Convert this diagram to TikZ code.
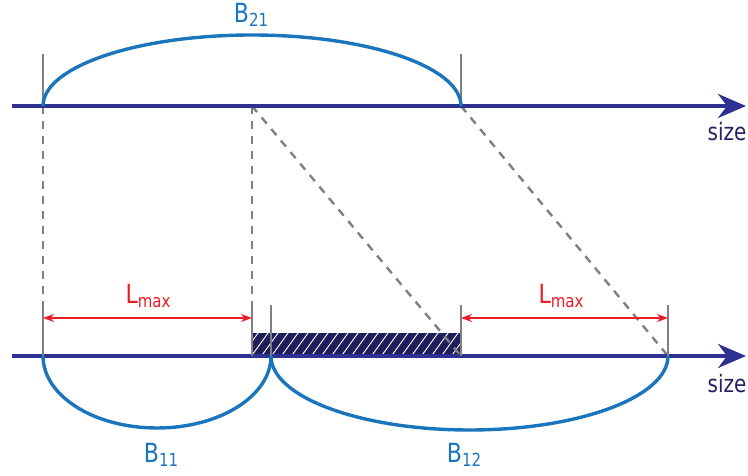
\documentclass[tikz,border=0pt]{standalone}
\usepackage{fontspec}
\usepackage{graphicx}
\setmainfont{DejaVu Sans}
\usetikzlibrary{arrows.meta}
\definecolor{axisblue}{HTML}{2E3192}
\definecolor{arcblue}{HTML}{1B75BC}
\definecolor{lred}{HTML}{ED1C24}
\definecolor{tickgray}{HTML}{808080}
\definecolor{hatchnavy}{HTML}{1E1E5A}
\definecolor{txtnavy}{HTML}{262262}
\newcommand{\tallt}[1]{\scalebox{1}[1.2]{#1}}
\newcommand{\subl}[2]{#1\raisebox{-3pt}{\fontsize{15}{15}\selectfont #2}}
\begin{document}
\begin{tikzpicture}[x=1pt,y=-1pt,
  axisline/.style={line width=3.8pt, draw=axisblue, -{Stealth[length=28pt,width=24pt,inset=9pt]}},
  arcline/.style={line width=3.4pt, draw=arcblue},
  tickline/.style={line width=2.4pt, draw=tickgray},
  dashline/.style={line width=2.4pt, draw=tickgray, dash pattern=on 8pt off 7pt},
  dimline/.style={line width=1.5pt, draw=lred, {Stealth[length=11pt,width=8pt]}-{Stealth[length=11pt,width=8pt]}},
  axislabel/.style={text=txtnavy, font=\fontsize{20}{20}\selectfont, inner sep=0pt},
  blabel/.style={text=arcblue, font=\fontsize{22}{22}\selectfont, inner sep=0pt},
  llabel/.style={text=lred, font=\fontsize{22}{22}\selectfont, inner sep=0pt}
]
\useasboundingbox (0,0) rectangle (748,476);

% axes coordinates
\coordinate (ta0) at (12,106);
\coordinate (ta1) at (746,106);
\coordinate (ba0) at (12,356);
\coordinate (ba1) at (746,356);
% top points
\coordinate (t1) at (43,106);
\coordinate (t2) at (252,106);
\coordinate (t3) at (461,106);
% bottom points
\coordinate (b1) at (43,356);
\coordinate (b2) at (252,356);
\coordinate (b3) at (271,356);
\coordinate (b4) at (461,356);
\coordinate (b5) at (668,356);
% tick tops
\coordinate (t1u) at (43,54);
\coordinate (t3u) at (461,54);
\coordinate (b1u) at (43,302);
\coordinate (b2u) at (252,302);
\coordinate (b3u) at (271,305);
\coordinate (b4u) at (461,305);
\coordinate (b5u) at (668,305);
% dimension ends
\coordinate (d1a) at (43,318);
\coordinate (d1b) at (252,318);
\coordinate (d2a) at (461,318);
\coordinate (d2b) at (668,318);

% hatched box
\fill[hatchnavy] (252,333) rectangle (461,356);
\begin{scope}
  \clip (252,333) rectangle (461,356);
  \foreach \x in {230,240,...,470} \draw[white, line width=0.9pt] (\x,358) -- ++(19.5,-27);
\end{scope}

% dashed guides
\draw[dashline] (t1) -- (b1);
\draw[dashline] (t2) -- (b2);
\draw[dashline] (t2) -- (b4);
\draw[dashline] (t3) -- (b5);

% axes
\draw[axisline] (ta0) -- (ta1);
\draw[axisline] (ba0) -- (ba1);

% ticks
\draw[tickline] (t1) -- (t1u);
\draw[tickline] (t3) -- (t3u);
\draw[tickline] (b1) -- (b1u);
\draw[tickline] (b2) -- (b2u);
\draw[tickline] (b3) -- (b3u);
\draw[tickline] (b4) -- (b4u);
\draw[tickline] (b5) -- (b5u);

% arcs
\draw[arcline] (t1) arc[start angle=180, end angle=360, x radius=209, y radius=71];
\draw[arcline] (b1) arc[start angle=180, end angle=0, x radius=114, y radius=72];
\draw[arcline] (b3) arc[start angle=180, end angle=0, x radius=198.5, y radius=74];

% dimensions
\draw[dimline] (d1a) -- (d1b);
\draw[dimline] (d2a) -- (d2b);

% labels
\node[blabel] (lb21) at (251,15) {\tallt{\subl{B}{21}}};
\node[blabel] (lb11) at (161,455) {\tallt{\subl{B}{11}}};
\node[blabel] (lb12) at (464,455) {\tallt{\subl{B}{12}}};
\node[llabel] (lm1) at (148,296) {\tallt{\subl{L}{max}}};
\node[llabel] (lm2) at (561,296) {\tallt{\subl{L}{max}}};
\node[axislabel] (s1) at (727,132) {\tallt{size}};
\node[axislabel] (s2) at (727,384) {\tallt{size}};
\end{tikzpicture}
\end{document}
